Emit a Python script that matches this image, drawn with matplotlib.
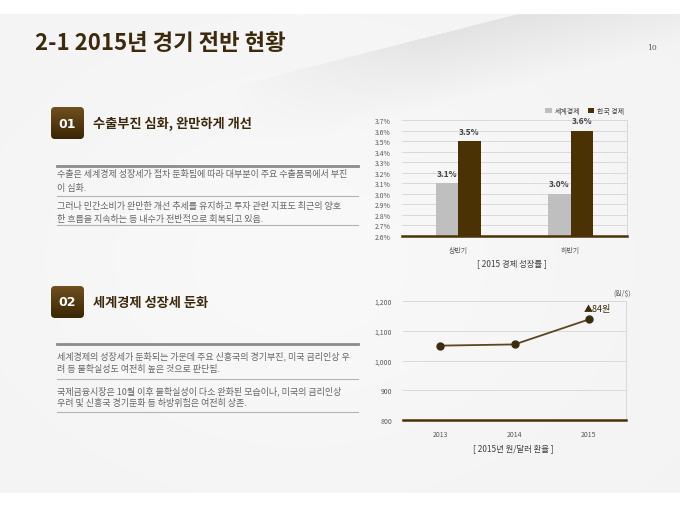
"""
2-1 2015년 경기 전반 현황 - 슬라이드 재현
"""

import numpy as np
import matplotlib.pyplot as plt
from matplotlib.patches import FancyBboxPatch
from matplotlib.ticker import FuncFormatter

plt.rcParams['font.family'] = ['Noto Sans CJK KR', 'DejaVu Sans']

# Datos
titulo = '2-1 2015년 경기 전반 현황'
pagina = '10'

periodos = ['상반기', '하반기']
mundo = [3.1, 3.0]
corea = [3.5, 3.6]
series = ['세계경제', '한국 경제']

anios = ['2013', '2014', '2015']
tipo_cambio = [1050, 1054, 1138]

encabezados = ['수출부진 심화, 완만하게 개선', '세계경제 성장세 둔화']
parrafos = [
    [['수출은 세계경제 성장세가 점차 둔화됨에 따라 대부분이 주요 수출품목에서 부진',
      '이 심화.'],
     ['그러나 민간소비가 완만한 개선 추세를 유지하고 투자 관련 지표도 최근의 양호',
      '한 흐름을 지속하는 등 내수가 전반적으로 회복되고 있음.']],
    [['세계경제의 성장세가 둔화되는 가운데 주요 신흥국의 경기부진, 미국 금리인상 우',
      '려 등 불확실성도 여전히 높은 것으로 판단됨.'],
     ['국제금융시장은 10월 이후 불확실성이 다소 완화된 모습이나, 미국의 금리인상',
      '우려 및 신흥국 경기둔화 등 하방위험은 여전히 상존.']],
]

gris = '#bfbfbf'
cafe = '#4a3205'
cafe_txt = '#3d2a0c'
W, H = 680, 510

fig = plt.figure(figsize=(6.8, 5.1), dpi=100)
fig.patch.set_facecolor('white')

# Fondo en coordenadas de pixel
bg = fig.add_axes([0, 0, 1, 1])
bg.set_xlim(0, W)
bg.set_ylim(H, 0)
bg.axis('off')

yy, xx = np.mgrid[0:H, 0:W]
base = 0.955 + 0.02 * np.exp(-(((xx - 300) / 300.0) ** 2 + ((yy - 260) / 220.0) ** 2))
# cuña diagonal gris
x1, y1, x2, y2 = 233, 87, 520, 14
d = ((yy - y1) * (x2 - x1) - (xx - x1) * (y2 - y1)) / np.hypot(x2 - x1, y2 - y1)
d = -d
cuna = (d < 0) & (yy < 140)
sombra = np.clip(1 + d / 70.0, 0, 1) * np.clip((xx - 233) / 200.0, 0, 1)
base = np.where(cuna, base - 0.07 * sombra, base)
img = np.dstack([base, base, base])
img[(yy < 15) | (yy > 493)] = 1.0
bg.imshow(img, extent=[0, W, H, 0], aspect='auto', zorder=0)

bg.text(35, 43, titulo, fontsize=16, fontweight='bold', color=cafe_txt, va='center')
bg.text(652, 48, pagina, fontsize=5.5, color='#555555', va='center', ha='center',
        family='DejaVu Serif')

# Secciones de texto
y_cajas = [108, 287]
y_lineas = [[167, 197, 226], [345, 380, 413]]
y_texto = [[[175, 189], [207, 220]], [[356, 369], [391, 403]]]
for i in range(2):
    caja = FancyBboxPatch((51, y_cajas[i]), 33, 32, boxstyle='round,pad=0,rounding_size=4',
                          facecolor='none', edgecolor='none', zorder=2)
    bg.add_patch(caja)
    grad = np.linspace(0, 1, 50)[:, None]
    c0 = np.array([0x70, 0x50, 0x1e]) / 255
    c1 = np.array([0x3a, 0x25, 0x05]) / 255
    gimg = c0 + (c1 - c0) * grad[:, :, None]
    gimg = np.repeat(gimg, 10, axis=1)
    im = bg.imshow(gimg, extent=[51, 84, y_cajas[i] + 32, y_cajas[i]], aspect='auto', zorder=2)
    im.set_clip_path(caja)
    bg.text(67.5, y_cajas[i] + 16, '0%d' % (i + 1), fontsize=9, fontweight='bold',
            color='white', ha='center', va='center', family='DejaVu Sans', zorder=3)
    bg.text(93, y_cajas[i] + 16, encabezados[i], fontsize=9.5, fontweight='bold',
            color=cafe_txt, va='center', zorder=3)
    bg.plot([57, 358], [y_lineas[i][0]] * 2, color='#8c8c8c', lw=2, zorder=2)
    bg.plot([57, 358], [y_lineas[i][1]] * 2, color='#b3b3b3', lw=0.8, zorder=2)
    bg.plot([57, 358], [y_lineas[i][2]] * 2, color='#b3b3b3', lw=0.8, zorder=2)
    for j in range(2):
        for k in range(2):
            bg.text(57, y_texto[i][j][k], parrafos[i][j][k], fontsize=6.5,
                    color='#666666', va='center', zorder=3)

# Grafico de barras
ax = fig.add_axes([402 / W, 1 - 237 / H, 225 / W, 116 / H])
ax.patch.set_alpha(0)
x = np.arange(len(periodos))
b1 = ax.bar(x - 0.1, mundo, width=0.2, color=gris, label=series[0], zorder=2)
b2 = ax.bar(x + 0.1, corea, width=0.2, color=cafe, label=series[1], zorder=2)
for barras in (b1, b2):
    ax.bar_label(barras, labels=['%.1f%%' % b.get_height() for b in barras], padding=4,
                 fontsize=6, fontweight='bold', color='#404040')
ax.set_ylim(2.6, 3.7)
ax.set_xlim(-0.5, 1.5)
ax.set_yticks(np.round(np.arange(2.6, 3.71, 0.1), 1))
ax.yaxis.set_major_formatter(FuncFormatter(lambda v, p: '%.1f%%' % v))
ax.set_xticks(x)
ax.set_xticklabels(periodos)
ax.grid(axis='y', color='#d9d9d9', lw=0.7, zorder=0)
ax.tick_params(length=0, labelsize=5, colors='#595959')
ax.tick_params(axis='x', pad=7)
ax.tick_params(axis='y', pad=8)
for s in ['left', 'top']:
    ax.spines[s].set_visible(False)
ax.spines['right'].set_color('#d9d9d9')
ax.spines['right'].set_linewidth(0.7)
ax.spines['bottom'].set_color(cafe)
ax.spines['bottom'].set_linewidth(1.8)
ax.legend(loc='lower right', bbox_to_anchor=(1.0, 1.02), ncol=2, frameon=False,
          fontsize=5, handlelength=0.9, handleheight=0.9, handletextpad=0.4,
          columnspacing=1.2, borderaxespad=0, labelcolor='#404040')
fig.text(512 / W, 1 - 264 / H, '[ 2015 경제 성장률 ]', fontsize=6, color='#404040',
         ha='center', va='center')

# Grafico de linea
ax2 = fig.add_axes([403 / W, 1 - 421 / H, 223 / W, 119 / H])
ax2.patch.set_alpha(0)
xl = np.arange(len(anios))
ax2.plot(xl, tipo_cambio, color='#5c4520', lw=1.3, marker='o', markersize=5,
         markerfacecolor='#3d2b0e', markeredgecolor='#3d2b0e', zorder=3)
ax2.annotate('▲%d원' % (tipo_cambio[2] - tipo_cambio[1]), (xl[2], tipo_cambio[2]),
             xytext=(-4, 5), textcoords='offset points', fontsize=6.5, color=cafe_txt,
             ha='left', va='bottom')
ax2.set_ylim(800, 1200)
ax2.set_xlim(-0.5, 2.5)
ax2.set_yticks(np.arange(800, 1201, 100))
ax2.yaxis.set_major_formatter(FuncFormatter(lambda v, p: '{:,.0f}'.format(v)))
ax2.set_xticks(xl)
ax2.set_xticklabels(anios)
ax2.grid(axis='y', color='#d9d9d9', lw=0.7, zorder=0)
ax2.tick_params(length=0, labelsize=5, colors='#595959')
ax2.tick_params(axis='x', pad=7)
ax2.tick_params(axis='y', pad=8)
for s in ['left', 'top']:
    ax2.spines[s].set_visible(False)
ax2.spines['right'].set_color('#d9d9d9')
ax2.spines['right'].set_linewidth(0.7)
ax2.spines['bottom'].set_color(cafe)
ax2.spines['bottom'].set_linewidth(1.8)
fig.text(622 / W, 1 - 294 / H, '(원/$)', fontsize=5, color='#595959', ha='center', va='center')
fig.text(513 / W, 1 - 449 / H, '[ 2015년 원/달러 환율 ]', fontsize=6, color='#404040',
         ha='center', va='center')

fig.savefig('out.png', dpi=100)
